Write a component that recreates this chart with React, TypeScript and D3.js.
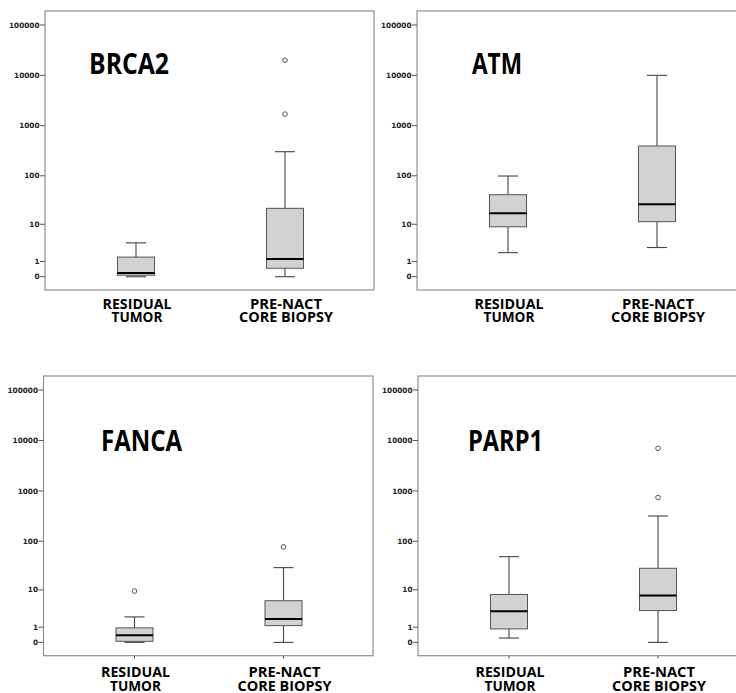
import React from 'react';
import * as d3 from 'd3';

// categories and tick values shared by all four panels
const categories = ['RESIDUAL TUMOR', 'PRE-NACT CORE BIOPSY'];
const categoryLines = [['RESIDUAL', 'TUMOR'], ['PRE-NACT', 'CORE BIOPSY']];
const yTicks = [0, 1, 10, 100, 1000, 10000, 100000];

// five-number summaries per gene: [min, q1, median, q3, max]
const brca2 = [[0, 0.07, 0.18, 1.45, 3.7], [0, 0.47, 1.25, 21.8, 303]];
const atm = [[2, 8.8, 17.2, 41.6, 99], [2.8, 11.4, 26.4, 394, 10000]];
const fanca = [[0, 0.05, 0.38, 0.94, 2.2], [0, 1.15, 1.9, 5.7, 29.3]];
const parp1 = [[0.22, 0.85, 3.14, 7.9, 49], [0, 3.28, 7.5, 28.4, 318]];

// outliers per gene, per category
const brca2Out = [[], [1700, 20000]];
const atmOut = [[], []];
const fancaOut = [[9.4], [77]];
const parp1Out = [[], [740, 7000]];

const genes = ['BRCA2', 'ATM', 'FANCA', 'PARP1'];
const stats = [brca2, atm, fanca, parp1];
const outliers = [brca2Out, atmOut, fancaOut, parp1Out];

// panel frames (layout only)
const layout = [
  { left: 45, top: 11, right: 374, bottom: 290, titleX: 89, titleY: 74, titleW: 80, labelY: 309.3, gap: 13, xTicks: false },
  { left: 417, top: 11, right: 748, bottom: 290, titleX: 472, titleY: 74, titleW: 50, labelY: 309.3, gap: 13, xTicks: false },
  { left: 43.5, top: 376, right: 373, bottom: 655.7, titleX: 101, titleY: 451.3, titleW: 81, labelY: 677, gap: 13.7, xTicks: true },
  { left: 418, top: 376, right: 748, bottom: 655.7, titleX: 468, titleY: 451.3, titleW: 75, labelY: 677, gap: 13.7, xTicks: true },
];
const labelWidths = [[69, 51], [72, 94]];

const fmt = (d: number) => String(d);

function Panel({ i }: { i: number }) {
  const L = layout[i];
  const y = d3.scaleSymlog().constant(1).domain([0, 100000]).range([L.bottom - 13.3, L.top + 14]);
  const x = d3.scalePoint<string>().domain(categories).range([L.left + 91, L.left + 240]);
  const boxW = 37;
  const capW = 20;

  return (
    <g>
      <rect x={L.left} y={L.top} width={L.right - L.left} height={L.bottom - L.top}
        fill="white" stroke="#8f8f8f" strokeWidth={1.2} />
      {yTicks.map(t => (
        <g key={t}>
          <line x1={L.left - 5} x2={L.left} y1={y(t)} y2={y(t)} stroke="#555" strokeWidth={1} />
          <text x={L.left - 5.5} y={y(t)} dy="0.36em" textAnchor="end"
            fontFamily="DejaVu Sans" fontWeight="bold" fontSize={7.3} fill="#222">{fmt(t)}</text>
        </g>
      ))}
      <text x={L.titleX} y={L.titleY} fontFamily="Open Sans" fontWeight="bold" fontSize={28}
        textLength={L.titleW} lengthAdjust="spacingAndGlyphs" fill="#000">{genes[i]}</text>
      {categories.map((c, j) => {
        const [mn, q1, md, q3, mx] = stats[i][j];
        const cx = x(c) as number;
        return (
          <g key={c}>
            <line x1={cx} x2={cx} y1={y(q3)} y2={y(mx)} stroke="#444" strokeWidth={1.1} />
            <line x1={cx} x2={cx} y1={y(q1)} y2={y(mn)} stroke="#444" strokeWidth={1.1} />
            <line x1={cx - capW / 2} x2={cx + capW / 2} y1={y(mx)} y2={y(mx)} stroke="#444" strokeWidth={1.1} />
            <line x1={cx - capW / 2} x2={cx + capW / 2} y1={y(mn)} y2={y(mn)} stroke="#444" strokeWidth={1.1} />
            <rect x={cx - boxW / 2} y={y(q3)} width={boxW} height={Math.max(y(q1) - y(q3), 0.5)}
              fill="#d2d2d2" stroke="#555" strokeWidth={1} />
            <line x1={cx - boxW / 2} x2={cx + boxW / 2} y1={y(md)} y2={y(md)} stroke="#000" strokeWidth={2} />
            {outliers[i][j].map(o => (
              <circle key={o} cx={cx} cy={y(o)} r={2.3} fill="white" stroke="#555" strokeWidth={1} />
            ))}
            {L.xTicks && <line x1={cx} x2={cx} y1={L.bottom} y2={L.bottom + 3} stroke="#555" strokeWidth={1} />}
            {categoryLines[j].map((ln, k) => (
              <text key={ln} x={cx + 1} y={L.labelY + k * L.gap} textAnchor="middle"
                fontFamily="Open Sans" fontWeight="bold" fontSize={15}
                textLength={labelWidths[j][k]} lengthAdjust="spacingAndGlyphs" fill="#000">{ln}</text>
            ))}
          </g>
        );
      })}
    </g>
  );
}

export default function App() {
  return (
    <svg width={736} height={693} style={{ position: 'absolute', left: 0, top: 0, background: 'white' }}>
      {genes.map((g, i) => <Panel key={g} i={i} />)}
    </svg>
  );
}
